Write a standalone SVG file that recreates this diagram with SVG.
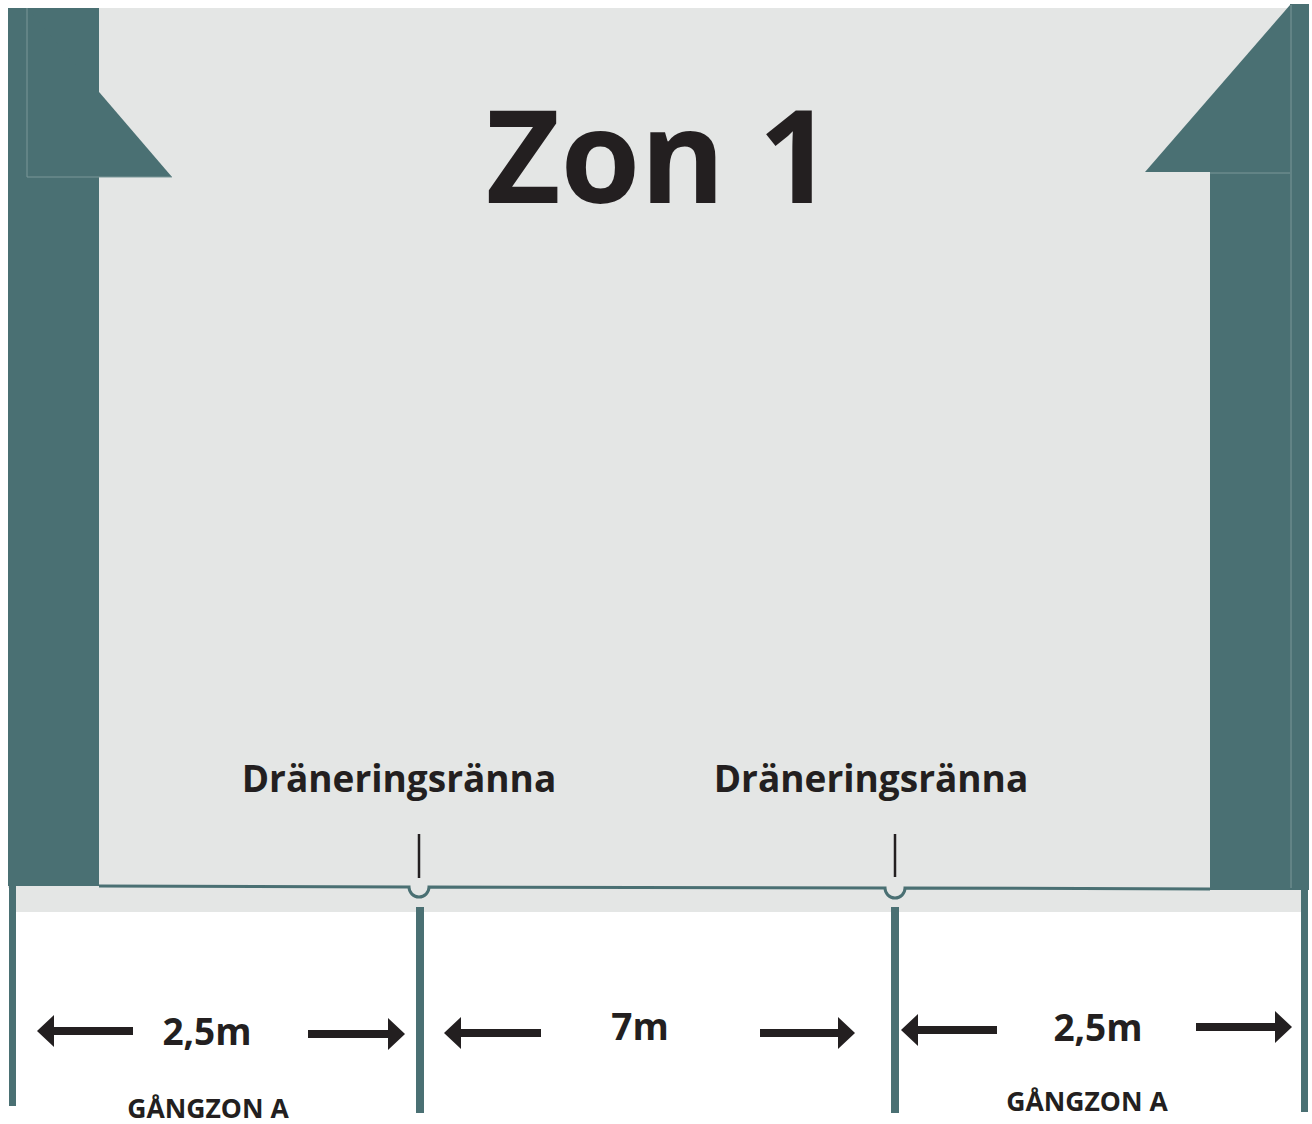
<svg xmlns="http://www.w3.org/2000/svg" width="1312" height="1124" viewBox="0 0 1312 1124">
<defs>
<style>
.teal{fill:#4a7073}
.seam{fill:none;stroke:#7a9799;stroke-width:1}
.gray{fill:#e4e6e5}
.t{font-family:"Open Sans","Liberation Sans",sans-serif;font-weight:700;fill:#231f20;text-anchor:middle}
.tick{stroke:#231f20;stroke-width:2.5}
.dim{stroke:#231f20;stroke-width:8;fill:none}
.head{fill:#231f20}
</style>
<path id="hl" d="M0,0 L17,-16 L17,16 Z"/>
<path id="hr" d="M0,0 L-17,-16 L-17,16 Z"/>
</defs>
<rect width="1312" height="1124" fill="#ffffff"/>
<g id="floor">
<rect class="gray" x="8" y="8" width="1296" height="880"/>
<rect class="gray" x="16" y="886" width="1285" height="26"/>
</g>
<g id="wall-left">
<rect class="teal" x="8" y="8" width="91" height="878"/>
<polygon class="teal" points="27,8 172,177 27,177"/>
<polyline class="seam" points="27,8 27,177 172,177"/>
</g>
<g id="wall-right">
<rect class="teal" x="1210" y="172" width="80" height="718"/>
<rect class="teal" x="1290" y="4" width="19" height="886"/>
<polygon class="teal" points="1290,5 1145,172 1290,172"/>
<polyline class="seam" points="1210,173 1290,173"/>
<line class="seam" x1="1291" y1="5" x2="1291" y2="888"/>
</g>
<g id="title"><text class="t" x="659" y="203" font-size="129">Zon 1</text></g>
<g id="drain-1">
<text class="t" x="399" y="792" font-size="37">Dräneringsränna</text>
<line class="tick" x1="419" y1="834" x2="419" y2="878"/>
<rect class="teal" x="416" y="907" width="8" height="206"/>
</g>
<g id="drain-2">
<text class="t" x="871" y="792" font-size="37">Dräneringsränna</text>
<line class="tick" x1="895" y1="834" x2="895" y2="877"/>
<rect class="teal" x="891" y="907" width="8" height="206"/>
</g>
<g id="edge-lines">
<path d="M99,886 L409,887 A10,10 0 0 0 429,887 L885,888 A10,10 0 0 0 905,888 L1210,889" fill="#e4e6e5" stroke="#4a7073" stroke-width="3"/>
<rect class="teal" x="9" y="885" width="7" height="221"/>
<rect class="teal" x="1301" y="890" width="7" height="222"/>
</g>
<g id="zone-left">
<text class="t" x="207" y="1045" font-size="37">2,5m</text>
<text class="t" x="208" y="1118" font-size="26.5">GÅNGZON A</text>
</g>
<g id="zone-mid">
<text class="t" x="640" y="1040" font-size="37">7m</text>
</g>
<g id="zone-right">
<text class="t" x="1098" y="1041" font-size="37">2,5m</text>
<text class="t" x="1087" y="1111" font-size="26.5">GÅNGZON A</text>
</g>
<g id="connectors">
<line class="dim" x1="50" y1="1031" x2="133" y2="1031"/>
<use href="#hl" class="head" x="37" y="1031"/>
<line class="dim" x1="308" y1="1034" x2="392" y2="1034"/>
<use href="#hr" class="head" x="405" y="1034"/>
<line class="dim" x1="457" y1="1033" x2="541" y2="1033"/>
<use href="#hl" class="head" x="444" y="1033"/>
<line class="dim" x1="760" y1="1033" x2="842" y2="1033"/>
<use href="#hr" class="head" x="855" y="1033"/>
<line class="dim" x1="914" y1="1030" x2="997" y2="1030"/>
<use href="#hl" class="head" x="901" y="1030"/>
<line class="dim" x1="1196" y1="1027" x2="1279" y2="1027"/>
<use href="#hr" class="head" x="1292" y="1027"/>
</g>
</svg>
